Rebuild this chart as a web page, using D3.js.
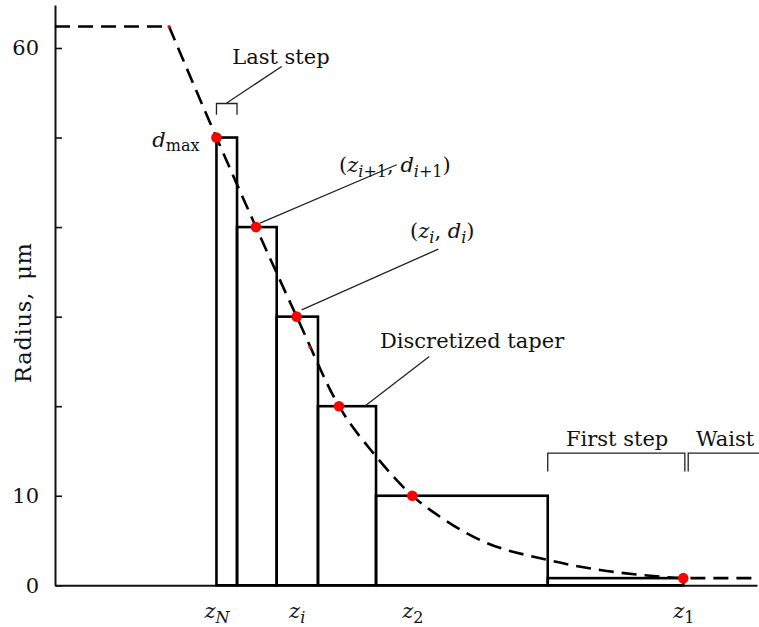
<!DOCTYPE html>
<html>
<head>
<meta charset="utf-8">
<script src="https://cdn.jsdelivr.net/npm/d3@7"></script>
<style>
  html, body { margin: 0; padding: 0; background: #fff; }
  svg text { font-family: "DejaVu Serif", serif; fill: #111; }
</style>
</head>
<body>
<svg id="chart" width="759" height="627"></svg>
<script>
// Stepwise (discretized) approximation of a fibre taper profile.

// Step boundaries along the taper axis (z) and the radius held on each step
const stepEdges  = [23.0, 25.93, 31.58, 37.46, 45.73, 70.19, 89.50];
const stepRadius = [50, 40, 30, 20, 10, 0.8];

// Sample nodes (z_i, d_i) on the continuous taper
const nodeZ = [23.0, 28.63, 34.43, 40.46, 50.90, 89.50];
const nodeD = [50, 40, 30, 20, 10, 0.8];

// Continuous taper profile: untapered fibre, taper transition, waist
const plateauZ = [0, 16.24];
const plateauD = [62.4, 62.4];
const taperZ = [16.24, 23.0, 28.63, 34.43, 40.46, 45.73, 50.90, 54.84, 60.54, 70.19, 77.64, 85.19, 89.50, 100];
const taperD = [62.4, 50, 40, 30, 20, 14.4, 10, 7.66, 5.06, 2.83, 1.71, 1.04, 0.8, 0.8];

// Small marks sitting on the profile
const minorZ = [16.24, 36.32];
const minorD = [62.4, 26.6];

// Axis ticks
const yTicks = [0, 10, 20, 30, 40, 50, 60];
const yTickLabels = ["0", "10", "", "", "", "", "60"];
const zLabelNodes = [0, 2, 4, 5];
const zLabelSubs  = ["N", "i", "2", "1"];
const zLabelSubItalic = [true, true, false, false];

const svg = d3.select("#chart");
const x = d3.scaleLinear().domain([0, 100]).range([55, 757]);
const y = d3.scaleLinear().domain([0, 64.8]).range([585.3, 5]);

// ---- axes ----
const yAxis = d3.axisLeft(y)
  .tickValues(yTicks)
  .tickSizeInner(-7)
  .tickSizeOuter(0)
  .tickPadding(16)
  .tickFormat((d, i) => yTickLabels[i]);
const gy = svg.append("g").attr("transform", `translate(${x(0)},0)`).call(yAxis);
gy.select(".domain").attr("stroke", "#111").attr("stroke-width", 2);
gy.selectAll(".tick line").attr("stroke", "#111").attr("stroke-width", 1.6);
gy.selectAll(".tick text")
  .attr("font-family", "DejaVu Serif").attr("font-size", 21).attr("fill", "#111");

const xAxis = d3.axisBottom(x)
  .tickValues(zLabelNodes.map(i => nodeZ[i]))
  .tickSize(0)
  .tickPadding(14)
  .tickFormat("");
const gx = svg.append("g").attr("transform", `translate(0,${y(0)})`).call(xAxis);
gx.select(".domain").attr("stroke", "#111").attr("stroke-width", 2);
gx.selectAll(".tick text")
  .attr("font-family", "DejaVu Serif").attr("font-size", 21).attr("fill", "#111")
  .attr("dy", "0.9em")
  .each(function (d, i) {
    const t = d3.select(this);
    t.append("tspan").attr("font-style", "italic").text("z");
    t.append("tspan")
      .attr("font-size", 16)
      .attr("font-style", zLabelSubItalic[i] ? "italic" : "normal")
      .attr("dy", 5)
      .text(zLabelSubs[i]);
  });

svg.append("text")
  .attr("transform", `translate(31,${y(30.4)}) rotate(-90)`)
  .attr("text-anchor", "middle")
  .attr("font-size", 22.5)
  .attr("textLength", 140)
  .attr("lengthAdjust", "spacing")
  .text("Radius,\u2002μm");

// ---- discretized taper (steps) ----
const steps = stepRadius.map((r, i) => ({ z0: stepEdges[i], z1: stepEdges[i + 1], r }));
svg.append("g").selectAll("rect").data(steps).join("rect")
  .attr("x", d => x(d.z0))
  .attr("y", d => y(d.r))
  .attr("width", d => x(d.z1) - x(d.z0))
  .attr("height", d => y(0) - y(d.r))
  .attr("fill", "none")
  .attr("stroke", "#000")
  .attr("stroke-width", 2.6);

// ---- continuous taper profile (dashed) ----
const linLine = d3.line().x(d => x(d[0])).y(d => y(d[1]));
const smoothLine = d3.line().x(d => x(d[0])).y(d => y(d[1])).curve(d3.curveMonotoneX);
svg.append("path")
  .attr("d", linLine(plateauZ.map((z, i) => [z, plateauD[i]])))
  .attr("fill", "none").attr("stroke", "#000").attr("stroke-width", 2.6)
  .attr("stroke-dasharray", "15,8");
svg.append("path")
  .attr("d", smoothLine(taperZ.map((z, i) => [z, taperD[i]])))
  .attr("fill", "none").attr("stroke", "#000").attr("stroke-width", 2.6)
  .attr("stroke-dasharray", "15,8");

svg.append("g").selectAll("circle.minor").data(minorZ.map((z, i) => [z, minorD[i]])).join("circle")
  .attr("class", "minor")
  .attr("cx", d => x(d[0])).attr("cy", d => y(d[1])).attr("r", 1.6)
  .attr("fill", "#ff0000");

// ---- annotations ----
const ann = svg.append("g");
const thin = sel => sel.attr("stroke", "#222").attr("stroke-width", 1.3).attr("fill", "none");

// brackets over the last step, first step and waist
function bracket(z0, z1, dTop, dBottom, leftTick = true, rightTick = true) {
  const p = d3.path();
  if (leftTick) { p.moveTo(x(z0), y(dBottom)); p.lineTo(x(z0), y(dTop)); }
  else p.moveTo(x(z0), y(dTop));
  p.lineTo(x(z1), y(dTop));
  if (rightTick) p.lineTo(x(z1), y(dBottom));
  ann.append("path").attr("d", p.toString()).call(thin);
}
bracket(stepEdges[0], stepEdges[1], 53.8, 52.55);
bracket(stepEdges[5], stepEdges[6] + 0.22, 14.75, 12.7);
bracket(stepEdges[6] + 0.7, 100.3, 14.75, 12.7, true, false);

// leader lines
const leaders = [
  [[24.46, 53.85], [32.29, 57.94]],
  [[29.20, 40.45], [48.67, 46.96]],
  [[35.14, 30.76], [54.60, 37.54]],
  [[44.16, 20.03], [53.32, 25.54]]
];
leaders.forEach(l => {
  ann.append("line")
    .attr("x1", x(l[0][0])).attr("y1", y(l[0][1]))
    .attr("x2", x(l[1][0])).attr("y2", y(l[1][1]))
    .call(thin);
});

function label(z, d, anchor) {
  return ann.append("text").attr("x", x(z)).attr("y", y(d))
    .attr("font-size", 21).attr("text-anchor", anchor || "start");
}
label(32.19, 58.2, "middle").text("Last step");
label(46.30, 26.5).text("Discretized taper");
label(72.79, 15.6).text("First step");
label(91.31, 15.6).text("Waist");

// (z_{i+1}, d_{i+1}) style node labels
function pairLabel(z, d, sub) {
  const t = label(z, d);
  t.append("tspan").text("(");
  t.append("tspan").attr("font-style", "italic").text("z");
  t.append("tspan").attr("font-size", 16).attr("dy", 5).attr("font-style", "italic").text(sub[0])
    .append("tspan").attr("font-style", "normal").text(sub.slice(1));
  t.append("tspan").attr("dy", -5).text(", ");
  t.append("tspan").attr("font-style", "italic").text("d");
  t.append("tspan").attr("font-size", 16).attr("dy", 5).attr("font-style", "italic").text(sub[0])
    .append("tspan").attr("font-style", "normal").text(sub.slice(1));
  t.append("tspan").attr("dy", -5).text(")");
}
pairLabel(40.46, 46.1, "i+1");
pairLabel(50.57, 38.8, "i");

// d_max next to the first node
const dmax = ann.append("text")
  .attr("x", x(nodeZ[0]) - 17).attr("y", y(nodeD[0]) + 9)
  .attr("text-anchor", "end").attr("font-size", 21);
dmax.append("tspan").attr("font-style", "italic").text("d");
dmax.append("tspan").attr("font-size", 16).attr("dy", 4).text("max");

// ---- nodes ----
svg.append("g").selectAll("circle.node").data(nodeZ.map((z, i) => [z, nodeD[i]])).join("circle")
  .attr("class", "node")
  .attr("cx", d => x(d[0])).attr("cy", d => y(d[1])).attr("r", 5.3)
  .attr("fill", "#ff0000");
</script>
</body>
</html>
